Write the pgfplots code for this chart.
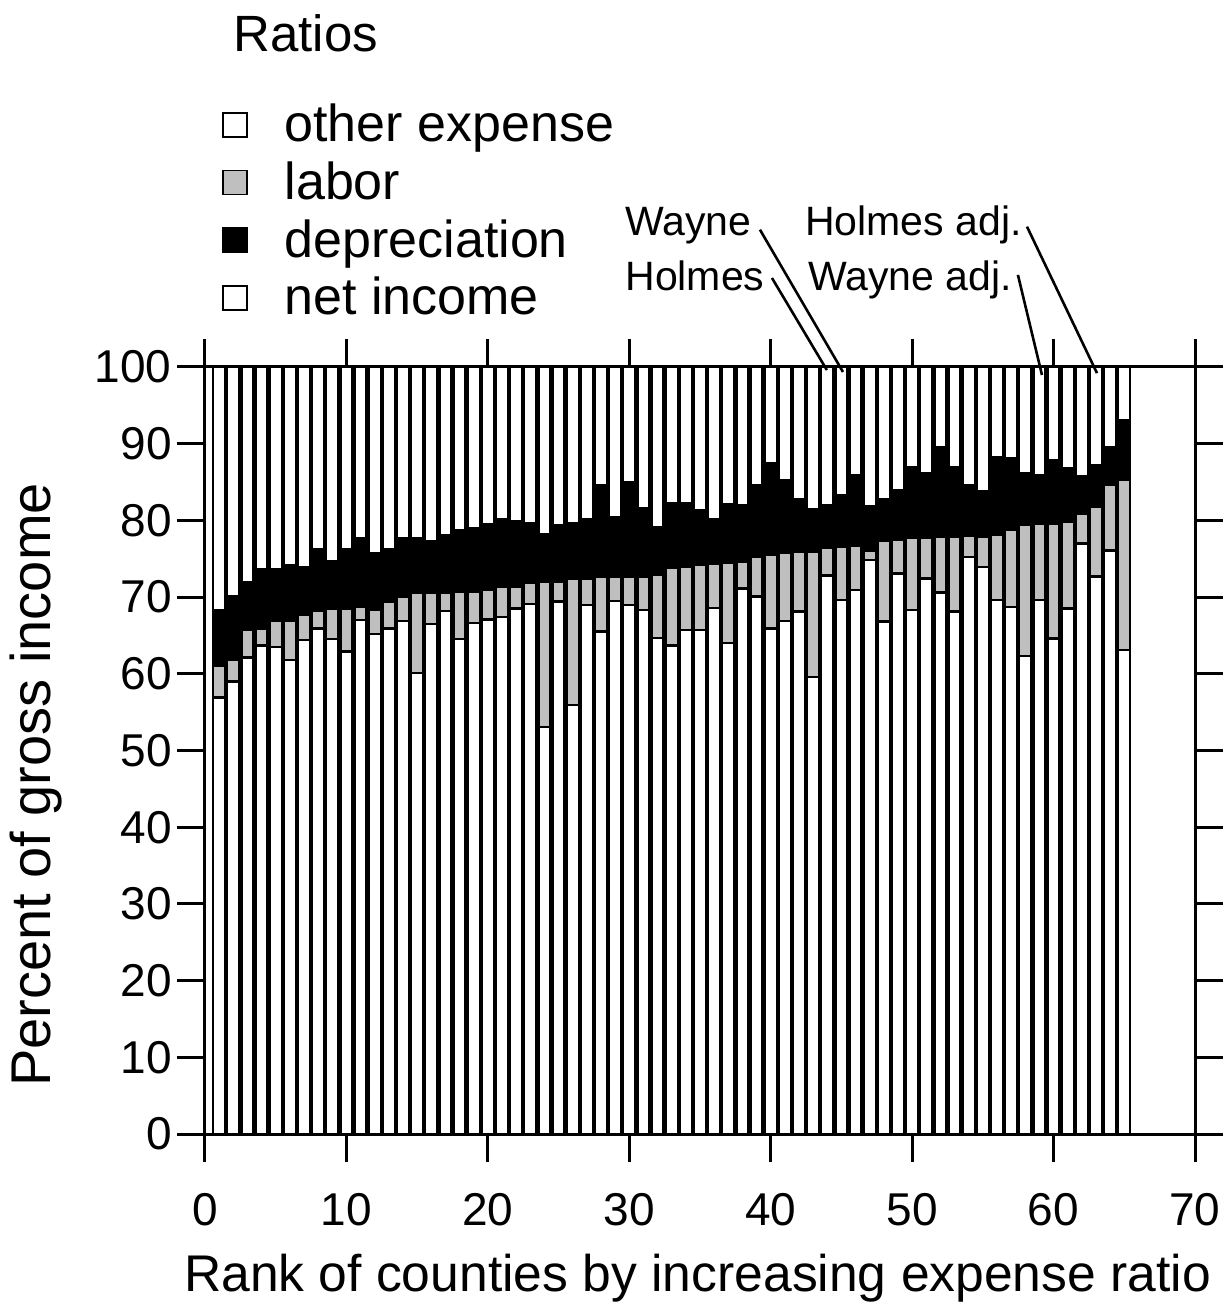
\documentclass[border=0pt]{standalone}
\usepackage{pgfplots}
\pgfplotsset{compat=1.18}
\usepackage{pgfplotstable}
\usepackage{fontspec}
\setmainfont{Liberation Sans}

\pgfplotstableread{
rank net labor dep other
1 56.9 4.2 7.2 31.7
2 59.0 2.8 8.3 29.9
3 62.1 3.6 6.3 28.0
4 63.7 2.2 7.7 26.4
5 63.5 3.4 6.8 26.3
6 61.8 5.1 7.3 25.8
7 64.4 3.3 6.2 26.1
8 65.9 2.3 8.0 23.8
9 64.5 4.0 6.2 25.3
10 62.9 5.6 7.7 23.8
11 67.0 1.7 9.0 22.3
12 65.2 3.1 7.4 24.3
13 65.9 3.5 6.8 23.8
14 66.9 3.2 7.6 22.3
15 60.1 10.4 7.2 22.3
16 66.5 4.1 6.7 22.7
17 68.2 2.4 7.5 21.9
18 64.5 6.2 8.0 21.3
19 66.6 4.1 8.3 21.0
20 67.1 3.9 8.5 20.5
21 67.4 4.0 8.7 19.9
22 68.5 2.9 8.5 20.1
23 69.1 2.7 7.8 20.4
24 53.1 18.9 6.2 21.8
25 69.4 2.6 7.4 20.6
26 55.9 16.5 7.2 20.4
27 69.0 3.4 7.7 19.9
28 65.5 7.1 12.0 15.4
29 69.5 3.1 7.8 19.6
30 69.0 3.6 12.4 15.0
31 68.3 4.4 8.9 18.4
32 64.7 8.2 6.2 20.9
33 63.7 10.1 8.4 17.8
34 65.7 8.3 8.3 17.7
35 65.7 8.5 7.1 18.7
36 68.6 5.8 5.7 19.9
37 64.0 10.5 7.6 17.9
38 71.1 3.5 7.4 18.0
39 70.1 5.2 9.3 15.4
40 65.9 9.6 11.9 12.6
41 66.9 8.9 9.5 14.7
42 68.1 7.8 6.8 17.3
43 59.6 16.3 5.5 18.6
44 72.8 3.6 5.6 18.0
45 69.6 7.0 6.7 16.7
46 70.9 5.8 9.2 14.1
47 74.8 1.3 5.7 18.2
48 66.8 10.6 5.3 17.3
49 73.1 4.4 6.5 16.0
50 68.3 9.4 9.3 13.0
51 72.4 5.3 8.4 13.9
52 70.6 7.2 11.8 10.4
53 68.1 9.8 9.0 13.1
54 75.2 2.8 6.6 15.4
55 73.9 4.0 5.9 16.2
56 69.6 8.5 10.2 11.7
57 68.7 10.1 9.3 11.9
58 62.3 17.1 6.7 13.9
59 69.6 10.0 6.3 14.1
60 64.6 15.0 8.3 12.1
61 68.5 11.3 7.0 13.2
62 77.0 3.8 4.9 14.3
63 72.7 9.1 5.4 12.8
64 76.1 8.5 4.9 10.5
65 63.1 22.2 7.8 6.9
}\datatable

\pgfplotsset{
  sqlegend/.style={legend image code/.code={\draw[##1, line width=0.8pt] (0pt,-4.5pt) rectangle (12pt,7.5pt);}},
}

\begin{document}
\begin{tikzpicture}
\begin{axis}[
  name=ax,
  scale only axis,
  width=495pt, height=383.5pt,
  xmin=0, xmax=70, ymin=0, ymax=100,
  ybar stacked,
  bar width=0.85,
  xtick={0,10,...,70},
  ytick={0,10,...,100},
  tick align=outside,
  major tick length=14pt,
  axis line style={line width=1.5pt},
  tick style={line width=1.5pt, black},
  /pgf/number format/assume math mode=true,
  ticklabel style={font=\fontsize{23}{27}\selectfont},
  xticklabel style={inner sep=0pt, anchor=north, yshift=-15.5pt},
  yticklabel style={inner sep=0pt, anchor=east, xshift=-2.5pt},
  xlabel={Rank of counties by increasing expense ratio},
  ylabel={Percent of gross income},
  every axis x label/.style={at={(axis description cs:0.4975,-0.1884)}, anchor=center, font=\fontsize{25.8}{30}\selectfont},
  every axis y label/.style={at={(axis description cs:-0.1702,0.455)}, anchor=center, rotate=90, font=\fontsize{28}{32}\selectfont},
  legend cell align=left,
  legend style={at={(axis description cs:0.0172,1.3455)}, anchor=north west,
    draw=none, fill=none, inner sep=0pt, outer sep=0pt,
    row sep=2.8pt, column sep=18.5pt,
    font=\fontsize{26}{30}\selectfont,
    nodes={inner sep=0pt, text height=20pt, text depth=6pt}},
]
\addlegendimage{sqlegend, fill=white, draw=black}
\addlegendentry{other expense}
\addlegendimage{sqlegend, fill=gray!50, draw=black}
\addlegendentry{labor}
\addlegendimage{sqlegend, fill=black, draw=black}
\addlegendentry{depreciation}
\addlegendimage{sqlegend, fill=white, draw=black}
\addlegendentry{net income}

\addplot[fill=white, draw=black, line width=1.2pt, forget plot] table[x=rank, y=net] {\datatable};
\addplot[fill=gray!50, draw=black, line width=1.2pt, forget plot] table[x=rank, y=labor] {\datatable};
\addplot[fill=black, draw=black, line width=1.2pt, forget plot] table[x=rank, y=dep] {\datatable};
\addplot[fill=white, draw=black, line width=1.2pt, forget plot] table[x=rank, y=other] {\datatable};
\end{axis}

\node[anchor=base west, font=\fontsize{25.5}{30}\selectfont, inner sep=0pt] at ([xshift=14pt, yshift=157.5pt]ax.north west) {Ratios};

\begin{scope}[shift={(ax.south west)}, x=7.0714pt, y=3.835pt]
\begin{scope}[font=\fontsize{20.5}{24}\selectfont]
\node[anchor=base west, inner sep=0pt] at (29.70,117.2) {Wayne};
\node[anchor=base west, inner sep=0pt] at (29.70,110.0) {Holmes};
\node[anchor=base west, inner sep=0pt] at (42.42,117.2) {Holmes adj.};
\node[anchor=base west, inner sep=0pt] at (42.64,110.0) {Wayne adj.};
\end{scope}
\draw[line width=1.3pt] (39.24,117.9) -- (45.11,99.35);
\draw[line width=1.3pt] (40.09,111.6) -- (43.97,99.6);
\draw[line width=1.3pt] (58.12,118.3) -- (63.07,99.2);
\draw[line width=1.3pt] (57.48,112.0) -- (59.18,98.96);
\end{scope}

\pgfresetboundingbox
\path[use as bounding box] ([xshift=-102.5pt, yshift=-86.5pt]ax.south west) rectangle ([xshift=15pt, yshift=183.5pt]ax.north east);
\end{tikzpicture}
\end{document}
